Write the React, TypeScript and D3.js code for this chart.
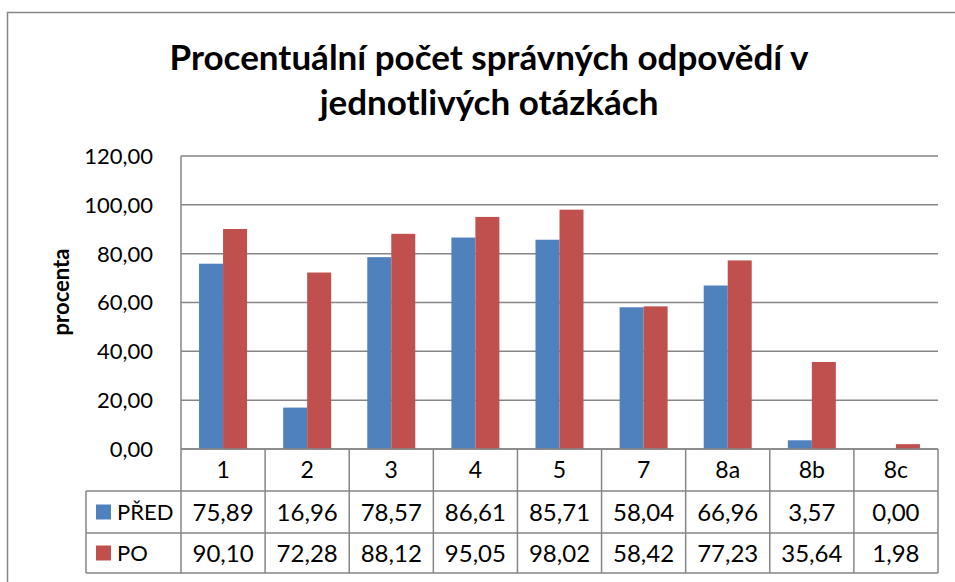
import React, { useEffect, useRef } from 'react';
import * as d3 from 'd3';

const categories = ['1', '2', '3', '4', '5', '7', '8a', '8b', '8c'];
const predValues = [75.89, 16.96, 78.57, 86.61, 85.71, 58.04, 66.96, 3.57, 0.0];
const poValues = [90.1, 72.28, 88.12, 95.05, 98.02, 58.42, 77.23, 35.64, 1.98];
const seriesNames = ['PŘED', 'PO'];
const seriesColors = ['#4F81BD', '#C0504D'];
const yTicks = [0, 20, 40, 60, 80, 100, 120];

const W = 955;
const H = 582;
const gridColor = '#868686';
const font = 'Lato, "Open Sans", sans-serif';

const App: React.FC = () => {
    const svgRef = useRef<SVGSVGElement>(null);

    useEffect(() => {
        const svg = d3.select(svgRef.current);
        svg.selectAll('*').remove();

        const left = 181, right = 938, top = 156, bottom = 449;
        const rowH = [42, 42, 40];

        const x = d3.scaleBand<string>().domain(categories).range([left, right]);
        const y = d3.scaleLinear().domain([0, 120]).range([bottom, top]);
        const bw = 24;
        const fmt = (v: number) => v.toFixed(2).replace('.', ',');

        // outer frame (left + top only visible)
        svg.append('path')
            .attr('d', `M7.5,${H} V12.5 H${W}`)
            .attr('fill', 'none')
            .attr('stroke', gridColor)
            .attr('stroke-width', 1.5);

        // title
        const title = svg.append('text')
            .attr('text-anchor', 'middle')
            .style('font-family', font)
            .style('font-weight', 'bold')
            .style('font-size', '35px')
            .style('fill', '#000');
        title.append('tspan').attr('x', 489).attr('y', 70).text('Procentuální počet správných odpovědí v');
        title.append('tspan').attr('x', 489).attr('y', 115).text('jednotlivých otázkách');

        // gridlines
        svg.append('g')
            .selectAll('line')
            .data(yTicks)
            .enter()
            .append('line')
            .attr('x1', left)
            .attr('x2', right)
            .attr('y1', d => y(d))
            .attr('y2', d => y(d))
            .attr('stroke', gridColor)
            .attr('stroke-width', 1.5);

        // y axis line
        svg.append('line')
            .attr('x1', left).attr('x2', left)
            .attr('y1', top).attr('y2', bottom)
            .attr('stroke', gridColor)
            .attr('stroke-width', 1.5);

        // y tick labels
        svg.append('g')
            .selectAll('text')
            .data(yTicks)
            .enter()
            .append('text')
            .attr('x', 153)
            .attr('y', d => y(d))
            .attr('dy', '0.36em')
            .attr('text-anchor', 'end')
            .style('font-family', font)
            .style('font-size', '22px')
            .style('fill', '#000')
            .text(d => fmt(d));

        // y axis title
        svg.append('text')
            .attr('transform', `translate(69,292) rotate(-90)`)
            .attr('text-anchor', 'middle')
            .style('font-family', font)
            .style('font-weight', 'bold')
            .style('font-size', '22px')
            .style('fill', '#000')
            .text('procenta');

        // bars
        const series = [predValues, poValues];
        series.forEach((vals, si) => {
            svg.append('g')
                .selectAll('rect')
                .data(vals)
                .enter()
                .append('rect')
                .attr('x', (d, i) => (x(categories[i]) as number) + x.bandwidth() / 2 - bw + si * bw)
                .attr('y', d => y(d))
                .attr('width', bw)
                .attr('height', d => bottom - y(d))
                .attr('fill', seriesColors[si]);
        });

        // data table
        const r0 = bottom, r1 = r0 + rowH[0], r2 = r1 + rowH[1], r3 = r2 + rowH[2];
        const legLeft = 86;
        const tbl = svg.append('g')
            .attr('stroke', gridColor)
            .attr('stroke-width', 1.5)
            .attr('fill', 'none');
        // horizontal lines
        tbl.append('line').attr('x1', left).attr('x2', right).attr('y1', r0).attr('y2', r0);
        [r1, r2, r3].forEach(ry => {
            tbl.append('line').attr('x1', legLeft).attr('x2', right).attr('y1', ry).attr('y2', ry);
        });
        // vertical lines
        tbl.append('line').attr('x1', legLeft).attr('x2', legLeft).attr('y1', r1).attr('y2', r3);
        const vxs = categories.map(c => x(c) as number).concat([right]);
        vxs.forEach(vx => {
            tbl.append('line').attr('x1', vx).attr('x2', vx).attr('y1', r0).attr('y2', r3);
        });

        const cellText = (g: d3.Selection<SVGGElement, unknown, null, undefined>) => g
            .style('font-family', font)
            .style('font-size', '23px')
            .style('fill', '#000')
            .attr('text-anchor', 'middle');

        svg.append('g').call(cellText)
            .selectAll('text')
            .data(categories)
            .enter()
            .append('text')
            .attr('x', d => (x(d) as number) + x.bandwidth() / 2)
            .attr('y', (r0 + r1) / 2)
            .attr('dy', '0.36em')
            .text(d => d);

        const rowsY = [(r1 + r2) / 2, (r2 + r3) / 2];
        series.forEach((vals, si) => {
            svg.append('g').call(cellText)
                .style('font-size', '24px')
                .selectAll('text')
                .data(vals)
                .enter()
                .append('text')
                .attr('x', (d, i) => (x(categories[i]) as number) + x.bandwidth() / 2)
                .attr('y', rowsY[si])
                .attr('dy', '0.36em')
                .text(d => fmt(d));

            // legend key + name
            svg.append('rect')
                .attr('x', 96)
                .attr('y', rowsY[si] - 7.5)
                .attr('width', 15)
                .attr('height', 15)
                .attr('fill', seriesColors[si]);
            svg.append('text')
                .attr('x', 117)
                .attr('y', rowsY[si])
                .attr('dy', '0.36em')
                .style('font-family', font)
                .style('font-size', '22px')
                .style('fill', '#000')
                .text(seriesNames[si]);
        });
    }, []);

    return (
        <div style={{ position: 'fixed', left: 0, top: 0 }}>
            <svg ref={svgRef} width={W} height={H} style={{ display: 'block', background: '#fff' }} />
        </div>
    );
};

export default App;
